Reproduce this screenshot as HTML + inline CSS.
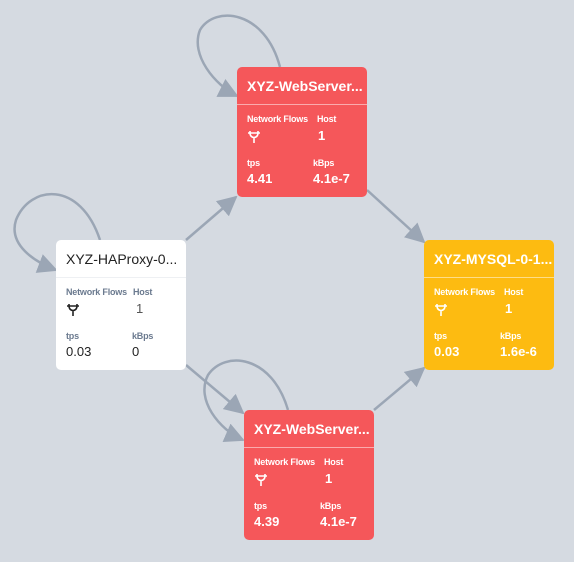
<!DOCTYPE html>
<html><head><style>
body{margin:0;width:574px;height:562px;background:#d5dae1;position:relative;overflow:hidden;font-family:"Liberation Sans",sans-serif}
.n{position:absolute;width:130px;height:130px;border-radius:5px;box-sizing:border-box}
.t{height:37px;line-height:38px;padding-left:10px;font-size:14px;border-bottom:1px solid rgba(255,255,255,.5)}
.w .t{color:#222;border-bottom:1px solid #eef0f3}
.r{background:#f5575a;color:#fff}.y{background:#fdbb11;color:#fff}.w{background:#fff;color:#222}
.r .t,.y .t{font-weight:bold}
.l{position:absolute;font-size:9px;font-weight:bold;letter-spacing:-0.2px}
.w .l{color:#6b7a8f;font-weight:bold}
.v{position:absolute;font-size:13px}
.r .v,.y .v{font-weight:bold}
.p{position:absolute;left:10px;top:63px}
</style></head><body>
<svg width="574" height="562" style="position:absolute;left:0;top:0">
<defs>
<marker id="b" viewBox="0 0 10 10" refX="9" refY="5" markerWidth="20" markerHeight="20" orient="auto" markerUnits="userSpaceOnUse"><path d="M0,0L10,5L0,10z" fill="#9ba6b5"/></marker>
<symbol id="plug" viewBox="0 0 14 14"><path d="M1,3H13M3,3V1M11,3V1M3,3C3,9 11,9 11,3M7,8V13" fill="none" stroke="currentColor" stroke-width="1.6"/></symbol>
</defs>
<g stroke="#9ba6b5" stroke-width="2.5" fill="none">
<path d="M186,240L236,197" marker-end="url(#b)"/>
<path d="M367,190L424,242" marker-end="url(#b)"/>
<path d="M186,365L243,413" marker-end="url(#b)"/>
<path d="M374,410L424,368" marker-end="url(#b)"/>
<path d="M100,240C80,180 30,185 16,220C8,245 35,262 56,270" marker-end="url(#b)"/>
<path d="M280,67C265,10 215,5 200,30C190,55 215,85 237,96" marker-end="url(#b)"/>
<path d="M288,410C272,355 225,350 208,375C195,400 220,430 243,440" marker-end="url(#b)"/>
</g></svg>
<div class="n w" style="left:56px;top:240px"><div class="t">XYZ-HAProxy-0...</div>
<div class="l" style="left:10px;top:47px">Network Flows</div><div class="l" style="left:77px;top:47px">Host</div>
<svg class="p" width="14" height="14" style="color:#222"><use href="#plug"/></svg><div class="v" style="left:80px;top:61px;color:#555">1</div>
<div class="l" style="left:10px;top:91px">tps</div><div class="l" style="left:76px;top:91px">kBps</div>
<div class="v" style="left:10px;top:104px">0.03</div><div class="v" style="left:76px;top:104px">0</div></div>
<div class="n r" style="left:237px;top:67px"><div class="t">XYZ-WebServer...</div>
<div class="l" style="left:10px;top:47px">Network Flows</div><div class="l" style="left:80px;top:47px">Host</div>
<svg class="p" width="14" height="14" style="color:#fff"><use href="#plug"/></svg><div class="v" style="left:81px;top:61px">1</div>
<div class="l" style="left:10px;top:91px">tps</div><div class="l" style="left:76px;top:91px">kBps</div>
<div class="v" style="left:10px;top:104px">4.41</div><div class="v" style="left:76px;top:104px">4.1e-7</div></div>
<div class="n y" style="left:424px;top:240px"><div class="t">XYZ-MYSQL-0-1...</div>
<div class="l" style="left:10px;top:47px">Network Flows</div><div class="l" style="left:80px;top:47px">Host</div>
<svg class="p" width="14" height="14" style="color:#fff"><use href="#plug"/></svg><div class="v" style="left:81px;top:61px">1</div>
<div class="l" style="left:10px;top:91px">tps</div><div class="l" style="left:76px;top:91px">kBps</div>
<div class="v" style="left:10px;top:104px">0.03</div><div class="v" style="left:76px;top:104px">1.6e-6</div></div>
<div class="n r" style="left:244px;top:410px"><div class="t">XYZ-WebServer...</div>
<div class="l" style="left:10px;top:47px">Network Flows</div><div class="l" style="left:80px;top:47px">Host</div>
<svg class="p" width="14" height="14" style="color:#fff"><use href="#plug"/></svg><div class="v" style="left:81px;top:61px">1</div>
<div class="l" style="left:10px;top:91px">tps</div><div class="l" style="left:76px;top:91px">kBps</div>
<div class="v" style="left:10px;top:104px">4.39</div><div class="v" style="left:76px;top:104px">4.1e-7</div></div>
</body></html>
